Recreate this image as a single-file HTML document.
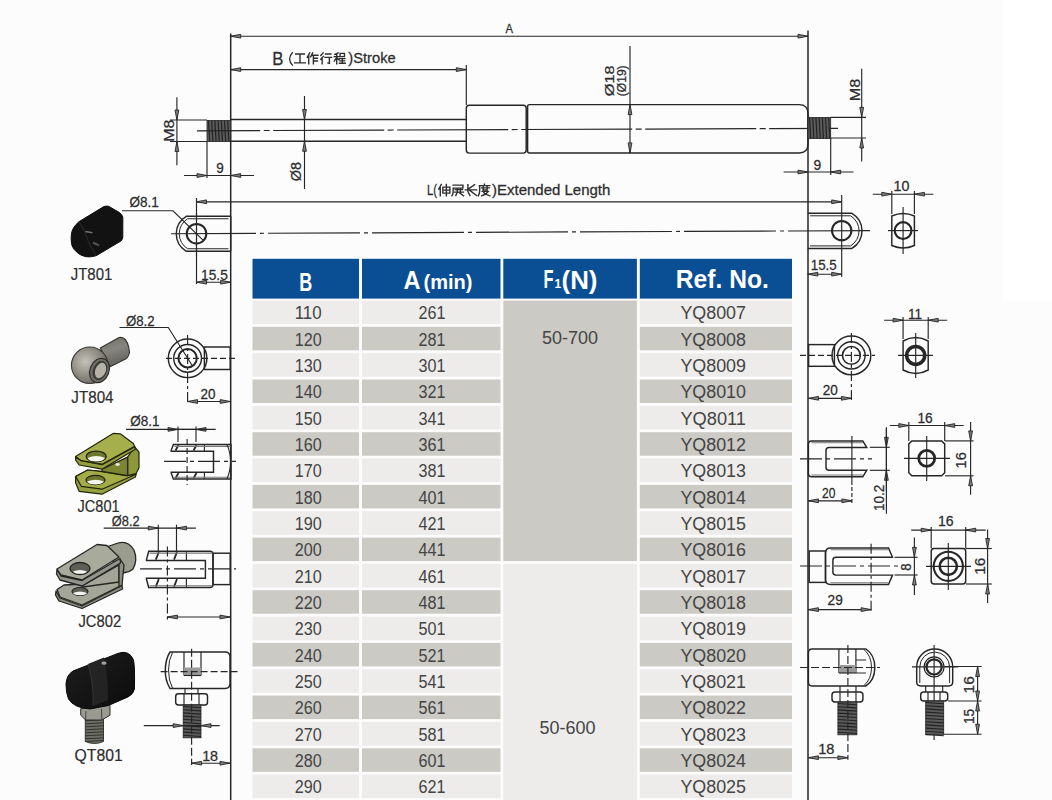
<!DOCTYPE html>
<html><head><meta charset="utf-8"><title>Gas spring</title>
<style>
html,body{margin:0;padding:0;width:1052px;height:800px;overflow:hidden;background:#fcfcfc}
svg{display:block;position:absolute;left:0;top:0}
text{font-family:"Liberation Sans",sans-serif}
</style></head><body>
<svg width="1052" height="800" viewBox="0 0 1052 800">
<rect x="0" y="0" width="1052" height="800" fill="#fcfcfc"/>
<rect x="1003" y="0" width="49" height="301" fill="#ffffff"/>
<line x1="230.7" y1="33.5" x2="230.7" y2="800" stroke="#262626" stroke-width="1.5"/>
<line x1="808" y1="30.5" x2="808" y2="800" stroke="#262626" stroke-width="1.5"/>
<line x1="230.7" y1="36.2" x2="808" y2="36.2" stroke="#262626" stroke-width="1.15"/>
<polygon points="230.7,36.2 240.7,34.3 240.7,38.1" fill="#7a7a7a" stroke="#262626" stroke-width="0.9"/>
<polygon points="808.0,36.2 798.0,34.3 798.0,38.1" fill="#7a7a7a" stroke="#262626" stroke-width="0.9"/>
<line x1="230.7" y1="69.6" x2="466.3" y2="69.6" stroke="#262626" stroke-width="1.15"/>
<polygon points="230.7,69.6 240.7,67.7 240.7,71.5" fill="#7a7a7a" stroke="#262626" stroke-width="0.9"/>
<polygon points="466.3,69.6 456.3,67.7 456.3,71.5" fill="#7a7a7a" stroke="#262626" stroke-width="0.9"/>
<line x1="466.3" y1="65" x2="466.3" y2="105" stroke="#262626" stroke-width="1.15"/>
<path d="M292.8,52.2 Q289.6,55.5 289.6,58.9 Q289.6,62.3 292.8,65.6" stroke="#2d2d2d" stroke-width="1.3" fill="none"/>
<path transform="translate(294.20,52.60) scale(0.967,0.950)" d="M1.5,1.5 H10.5 M6,1.5 V10.8 M0.5,10.8 H11.5" stroke="#2e2e2e" stroke-width="1.448" fill="none" stroke-linecap="square"/>
<path transform="translate(306.80,52.60) scale(0.967,0.950)" d="M3,0.3 L0.5,5 M2,3.5 V11.8 M6,0.3 L4,4.5 M5,2.8 H11.5 M6.8,2.8 V11.8 M6.8,6 H11 M6.8,8.8 H11" stroke="#2e2e2e" stroke-width="1.448" fill="none" stroke-linecap="square"/>
<path transform="translate(320.20,52.60) scale(0.967,0.950)" d="M3,0.3 L0.6,3 M3.2,4 L0.6,7 M2,6 V11.8 M5.5,1.5 H11 M5,5 H11.8 M9.5,5 V11.3 L8,11" stroke="#2e2e2e" stroke-width="1.448" fill="none" stroke-linecap="square"/>
<path transform="translate(333.80,52.60) scale(0.967,0.950)" d="M4.5,0.3 L1,1.8 M0.5,4.2 H5.5 M3,1.5 V11.8 M3,5 L0.5,9 M3.2,5.5 L5.2,7.5 M6.5,0.8 H11 V4.3 H6.5 Z M6,6.3 H11.5 M8.8,6.3 V11 M6.3,8.7 H11.2 M5.8,11.2 H11.8" stroke="#2e2e2e" stroke-width="1.448" fill="none" stroke-linecap="square"/>
<line x1="230.7" y1="119.5" x2="466.3" y2="119.5" stroke="#262626" stroke-width="1.45"/>
<line x1="230.7" y1="141.3" x2="466.3" y2="141.3" stroke="#262626" stroke-width="1.45"/>
<rect x="207" y="120.5" width="23.69999999999999" height="21.0" rx="0" stroke="#262626" stroke-width="0.8" fill="#5a5a5a"/>
<line x1="208.5" y1="120.5" x2="209.7" y2="141.5" stroke="#222" stroke-width="1.15"/>
<line x1="211.7" y1="120.5" x2="212.89999999999998" y2="141.5" stroke="#222" stroke-width="1.15"/>
<line x1="214.9" y1="120.5" x2="216.1" y2="141.5" stroke="#222" stroke-width="1.15"/>
<line x1="218.1" y1="120.5" x2="219.29999999999998" y2="141.5" stroke="#222" stroke-width="1.15"/>
<line x1="221.3" y1="120.5" x2="222.5" y2="141.5" stroke="#222" stroke-width="1.15"/>
<line x1="224.5" y1="120.5" x2="225.7" y2="141.5" stroke="#222" stroke-width="1.15"/>
<line x1="227.7" y1="120.5" x2="228.89999999999998" y2="141.5" stroke="#222" stroke-width="1.15"/>
<path d="M197,130.8 L838,128.3" stroke="#262626" stroke-width="1.15" stroke-dasharray="111 3.5 6 3.5" stroke-dashoffset="47.8" fill="none"/>
<rect x="466.3" y="105.2" width="59.9" height="47.9" rx="3" stroke="#262626" stroke-width="1.45" fill="none"/>
<path d="M529.4,104.6 H799 Q808,104.6 808,113.6 V143.9 Q808,152.9 799,152.9 H529.4 Q527.6,152.9 527.6,151 V106.5 Q527.6,104.6 529.4,104.6 Z" stroke="#262626" stroke-width="1.45" fill="none" />
<rect x="808" y="117.5" width="22.700000000000045" height="21.099999999999994" rx="0" stroke="#262626" stroke-width="0.8" fill="#5a5a5a"/>
<line x1="809.5" y1="117.5" x2="810.7" y2="138.6" stroke="#222" stroke-width="1.15"/>
<line x1="812.7" y1="117.5" x2="813.9000000000001" y2="138.6" stroke="#222" stroke-width="1.15"/>
<line x1="815.9" y1="117.5" x2="817.1" y2="138.6" stroke="#222" stroke-width="1.15"/>
<line x1="819.1" y1="117.5" x2="820.3000000000001" y2="138.6" stroke="#222" stroke-width="1.15"/>
<line x1="822.3" y1="117.5" x2="823.5" y2="138.6" stroke="#222" stroke-width="1.15"/>
<line x1="825.5" y1="117.5" x2="826.7" y2="138.6" stroke="#222" stroke-width="1.15"/>
<line x1="828.7" y1="117.5" x2="829.9000000000001" y2="138.6" stroke="#222" stroke-width="1.15"/>
<line x1="170" y1="120" x2="207" y2="120" stroke="#262626" stroke-width="1.15"/>
<line x1="170" y1="141.5" x2="207" y2="141.5" stroke="#262626" stroke-width="1.15"/>
<line x1="176.9" y1="97.3" x2="176.9" y2="165.2" stroke="#262626" stroke-width="1.15"/>
<polygon points="176.9,120.0 175.0,110.0 178.8,110.0" fill="#7a7a7a" stroke="#262626" stroke-width="0.9"/>
<polygon points="176.9,141.5 175.0,151.5 178.8,151.5" fill="#7a7a7a" stroke="#262626" stroke-width="0.9"/>
<line x1="207" y1="141.5" x2="207" y2="178" stroke="#262626" stroke-width="1.15"/>
<line x1="184" y1="175.5" x2="254" y2="175.5" stroke="#262626" stroke-width="1.15"/>
<polygon points="207.0,175.5 197.0,173.6 197.0,177.4" fill="#7a7a7a" stroke="#262626" stroke-width="0.9"/>
<polygon points="230.7,175.5 240.7,173.6 240.7,177.4" fill="#7a7a7a" stroke="#262626" stroke-width="0.9"/>
<line x1="304.5" y1="96" x2="304.5" y2="189" stroke="#262626" stroke-width="1.15"/>
<polygon points="304.5,119.5 302.6,109.5 306.4,109.5" fill="#7a7a7a" stroke="#262626" stroke-width="0.9"/>
<polygon points="304.5,141.3 302.6,151.3 306.4,151.3" fill="#7a7a7a" stroke="#262626" stroke-width="0.9"/>
<line x1="630" y1="46" x2="630" y2="153" stroke="#262626" stroke-width="1.15"/>
<polygon points="630.0,104.6 628.1,114.6 631.9,114.6" fill="#7a7a7a" stroke="#262626" stroke-width="0.9"/>
<polygon points="630.0,152.9 628.1,142.9 631.9,142.9" fill="#7a7a7a" stroke="#262626" stroke-width="0.9"/>
<line x1="831" y1="117.3" x2="866" y2="117.3" stroke="#262626" stroke-width="1.15"/>
<line x1="831" y1="138" x2="866" y2="138" stroke="#262626" stroke-width="1.15"/>
<line x1="861.7" y1="68.7" x2="861.7" y2="161.4" stroke="#262626" stroke-width="1.15"/>
<polygon points="861.7,117.3 859.8,107.3 863.6,107.3" fill="#7a7a7a" stroke="#262626" stroke-width="0.9"/>
<polygon points="861.7,138.0 859.8,148.0 863.6,148.0" fill="#7a7a7a" stroke="#262626" stroke-width="0.9"/>
<line x1="830.7" y1="138" x2="830.7" y2="175" stroke="#262626" stroke-width="1.15"/>
<line x1="783.6" y1="172" x2="853.5" y2="172" stroke="#262626" stroke-width="1.15"/>
<polygon points="808.0,172.0 798.0,170.1 798.0,173.9" fill="#7a7a7a" stroke="#262626" stroke-width="0.9"/>
<polygon points="830.7,172.0 840.7,170.1 840.7,173.9" fill="#7a7a7a" stroke="#262626" stroke-width="0.9"/>
<line x1="196.5" y1="201.8" x2="841.7" y2="201.8" stroke="#262626" stroke-width="1.15"/>
<polygon points="196.5,201.8 206.5,199.9 206.5,203.7" fill="#7a7a7a" stroke="#262626" stroke-width="0.9"/>
<polygon points="841.7,201.8 831.7,199.9 831.7,203.7" fill="#7a7a7a" stroke="#262626" stroke-width="0.9"/>
<line x1="196.5" y1="198" x2="196.5" y2="284" stroke="#262626" stroke-width="1.15"/>
<line x1="841.7" y1="195" x2="841.7" y2="277" stroke="#262626" stroke-width="1.15"/>
<path transform="translate(438.20,184.20) scale(1.033,0.983)" d="M3,0.3 L0.5,5 M2,3.5 V11.8 M4.5,3 H11.3 V9 H4.5 Z M4.5,6 H11.3 M7.9,0.3 V11.8" stroke="#2e2e2e" stroke-width="1.355" fill="none" stroke-linecap="square"/>
<path transform="translate(451.60,184.20) scale(1.033,0.983)" d="M1.5,1 H11 V4 H1.5 V8 Q1.2,11 0.3,11.8 M3.5,5.5 H10.5 M3,8 H11.5 M5.5,4.5 V8 M8.5,4.5 V8 M4,11.5 L5.5,8.5 M7.5,8.5 L11.5,11.8" stroke="#2e2e2e" stroke-width="1.355" fill="none" stroke-linecap="square"/>
<path transform="translate(464.80,184.20) scale(1.033,0.983)" d="M3,0.5 V7.5 L5,11.5 M9.5,0.5 L4,4.5 M0.5,5.8 H11.5 M5,6.5 L11.5,11.5" stroke="#2e2e2e" stroke-width="1.355" fill="none" stroke-linecap="square"/>
<path transform="translate(478.00,184.20) scale(1.033,0.983)" d="M6.2,0 V1.3 M1.3,1.5 H11.5 M1.6,1.5 V7 Q1.4,10 0.3,11.8 M3.5,3.8 H11 M5,2.2 V6 M8.8,2.2 V6 M5,5.8 H8.8 M4,7.3 H10 Q8,10.5 3.5,11.8 M5.5,8.5 Q8,11 11.5,11.8" stroke="#2e2e2e" stroke-width="1.355" fill="none" stroke-linecap="square"/>
<path d="M171,233.7 L870,230.6" stroke="#262626" stroke-width="1.15" stroke-dasharray="92 4 4 4" stroke-dashoffset="7" fill="none"/>
<path d="M230.7,216.25 H186.3 A20.3,20.3 0 0 0 186.3,251.25 H230.7" stroke="#262626" stroke-width="1.45" fill="none" />
<path d="M228.5,218.75 H187.6 A17.6,17.6 0 0 0 187.6,248.75 H228.5" stroke="#262626" stroke-width="1.0" fill="none" />
<line x1="230.7" y1="216" x2="230.7" y2="251.4" stroke="#262626" stroke-width="1.45"/>
<circle cx="196.5" cy="233.7" r="9.8" stroke="#262626" stroke-width="2" fill="none"/>
<line x1="196.5" y1="213" x2="196.5" y2="257" stroke="#262626" stroke-width="1.15" stroke-dasharray="3 2"/>
<path d="M122,210.8 H173 L203.5,240.6" stroke="#262626" stroke-width="1.1" fill="none" />
<line x1="196.5" y1="282.2" x2="230.7" y2="282.2" stroke="#262626" stroke-width="1.15"/>
<polygon points="196.5,282.2 206.5,280.3 206.5,284.1" fill="#7a7a7a" stroke="#262626" stroke-width="0.9"/>
<polygon points="230.7,282.2 220.7,280.3 220.7,284.1" fill="#7a7a7a" stroke="#262626" stroke-width="0.9"/>
<path d="M807.8,213.3 H851.9 A20.3,20.3 0 0 1 851.9,248.4 H807.8" stroke="#262626" stroke-width="1.45" fill="none" />
<path d="M810,215.8 H850.6 A17.6,17.6 0 0 1 850.6,245.9 H810" stroke="#262626" stroke-width="1.0" fill="none" />
<circle cx="841.7" cy="230.6" r="9.7" stroke="#262626" stroke-width="2" fill="none"/>
<line x1="807.8" y1="274.2" x2="841.7" y2="274.2" stroke="#262626" stroke-width="1.15"/>
<polygon points="807.8,274.2 817.8,272.3 817.8,276.1" fill="#7a7a7a" stroke="#262626" stroke-width="0.9"/>
<polygon points="841.7,274.2 831.7,272.3 831.7,276.1" fill="#7a7a7a" stroke="#262626" stroke-width="0.9"/>
<path d="M891.8,216 Q903.1,211 914.4,216 V245.5 Q903.1,250.5 891.8,245.5 Z" stroke="#262626" stroke-width="1.45" fill="none" />
<circle cx="903.1" cy="230.6" r="8.4" stroke="#262626" stroke-width="2.2" fill="none"/>
<line x1="903.1" y1="207" x2="903.1" y2="254" stroke="#262626" stroke-width="1.15"/>
<line x1="888" y1="230.6" x2="918" y2="230.6" stroke="#262626" stroke-width="1.15"/>
<line x1="891.8" y1="191" x2="891.8" y2="214" stroke="#262626" stroke-width="1.15"/>
<line x1="914.4" y1="191" x2="914.4" y2="214" stroke="#262626" stroke-width="1.15"/>
<line x1="872.8" y1="194.2" x2="933.4" y2="194.2" stroke="#262626" stroke-width="1.15"/>
<polygon points="891.8,194.2 881.8,192.3 881.8,196.1" fill="#7a7a7a" stroke="#262626" stroke-width="0.9"/>
<polygon points="914.4,194.2 924.4,192.3 924.4,196.1" fill="#7a7a7a" stroke="#262626" stroke-width="0.9"/>
<circle cx="187.6" cy="358.3" r="19.3" stroke="#262626" stroke-width="1.45" fill="none"/>
<circle cx="187.6" cy="358.3" r="13.9" stroke="#262626" stroke-width="1.45" fill="none"/>
<circle cx="187.6" cy="358.3" r="9.2" stroke="#262626" stroke-width="2" fill="none"/>
<rect x="204.4" y="347" width="25.8" height="22.5" rx="0" stroke="#262626" stroke-width="1.45" fill="none"/>
<line x1="166" y1="358.3" x2="236" y2="358.3" stroke="#262626" stroke-width="1.15" stroke-dasharray="6 3"/>
<line x1="187.6" y1="335" x2="187.6" y2="404" stroke="#262626" stroke-width="1.15" stroke-dasharray="10 3 3 3"/>
<path d="M119.5,327.5 H168.3 L192.5,366" stroke="#262626" stroke-width="1.1" fill="none" />
<line x1="187.6" y1="401.5" x2="230.2" y2="401.5" stroke="#262626" stroke-width="1.15"/>
<polygon points="187.6,401.5 197.6,399.6 197.6,403.4" fill="#7a7a7a" stroke="#262626" stroke-width="0.9"/>
<polygon points="230.2,401.5 220.2,399.6 220.2,403.4" fill="#7a7a7a" stroke="#262626" stroke-width="0.9"/>
<rect x="808.6" y="344.6" width="25.8" height="21.7" rx="0" stroke="#262626" stroke-width="1.45" fill="none"/>
<circle cx="851.4" cy="355.4" r="19.4" stroke="#262626" stroke-width="1.45" fill="none"/>
<circle cx="851.4" cy="355.4" r="13.7" stroke="#262626" stroke-width="1.45" fill="none"/>
<circle cx="851.4" cy="355.4" r="8.9" stroke="#262626" stroke-width="1.6" fill="none"/>
<line x1="800" y1="355.4" x2="875" y2="355.4" stroke="#262626" stroke-width="1.15" stroke-dasharray="6 3"/>
<line x1="851.4" y1="333" x2="851.4" y2="400" stroke="#262626" stroke-width="1.15" stroke-dasharray="10 3 3 3"/>
<line x1="808.6" y1="398.3" x2="851.4" y2="398.3" stroke="#262626" stroke-width="1.15"/>
<polygon points="808.6,398.3 818.6,396.4 818.6,400.2" fill="#7a7a7a" stroke="#262626" stroke-width="0.9"/>
<polygon points="851.4,398.3 841.4,396.4 841.4,400.2" fill="#7a7a7a" stroke="#262626" stroke-width="0.9"/>
<path d="M903.1,341 Q915.7,334 928.2,341 V370 Q915.7,377 903.1,370 Z" stroke="#262626" stroke-width="1.45" fill="none" />
<circle cx="915.7" cy="355.4" r="9" stroke="#262626" stroke-width="3.5" fill="none"/>
<line x1="915.7" y1="333" x2="915.7" y2="378" stroke="#262626" stroke-width="1.15"/>
<line x1="898" y1="355.4" x2="933" y2="355.4" stroke="#262626" stroke-width="1.15"/>
<line x1="903.1" y1="317" x2="903.1" y2="339" stroke="#262626" stroke-width="1.15"/>
<line x1="928.2" y1="317" x2="928.2" y2="339" stroke="#262626" stroke-width="1.15"/>
<line x1="884.1" y1="320.2" x2="947.2" y2="320.2" stroke="#262626" stroke-width="1.15"/>
<polygon points="903.1,320.2 893.1,318.3 893.1,322.1" fill="#7a7a7a" stroke="#262626" stroke-width="0.9"/>
<polygon points="928.2,320.2 938.2,318.3 938.2,322.1" fill="#7a7a7a" stroke="#262626" stroke-width="0.9"/>
<path d="M173.39999999999998,444.5 H231 Q231,444.5 231,444.5 V479 Q231,479 231,479 H173.39999999999998 L171.2,473.2 V472.2 H213.5 V451.3 H171.2 V450.3 Z" stroke="#262626" stroke-width="1.45" fill="none" />
<path d="M175.5,450.5 L178.5,445.3 M175.5,478.2 L178.5,473.0" stroke="#262626" stroke-width="1.8" fill="none" />
<path d="M193.5,450.5 L196.5,445.3 M193.5,478.2 L196.5,473.0" stroke="#262626" stroke-width="1.8" fill="none" />
<line x1="204.4" y1="444.5" x2="204.4" y2="451.3" stroke="#262626" stroke-width="1.15"/>
<line x1="204.4" y1="479" x2="204.4" y2="472.2" stroke="#262626" stroke-width="1.15"/>
<line x1="174.39999999999998" y1="446.3" x2="230.5" y2="446.3" stroke="#777" stroke-width="1.15"/>
<line x1="174.39999999999998" y1="477.2" x2="230.5" y2="477.2" stroke="#777" stroke-width="1.15"/>
<path d="M227,444.8 Q230.5,452 230.5,461.8 Q230.5,471 227,478.7" stroke="#262626" stroke-width="1.1" fill="none" />
<line x1="164" y1="461.3" x2="236" y2="461.3" stroke="#262626" stroke-width="1.15" stroke-dasharray="22 4 4 4"/>
<line x1="187.1" y1="439" x2="187.1" y2="485" stroke="#262626" stroke-width="1.15" stroke-dasharray="6 3"/>
<line x1="178" y1="429.4" x2="196" y2="429.4" stroke="#262626" stroke-width="1.15"/>
<polygon points="178.0,429.4 168.0,427.5 168.0,431.3" fill="#7a7a7a" stroke="#262626" stroke-width="0.9"/>
<polygon points="196.0,429.4 206.0,427.5 206.0,431.3" fill="#7a7a7a" stroke="#262626" stroke-width="0.9"/>
<line x1="126" y1="429.4" x2="215.7" y2="429.4" stroke="#262626" stroke-width="1.15"/>
<line x1="178" y1="426.5" x2="178" y2="442" stroke="#262626" stroke-width="1.15"/>
<line x1="196" y1="426.5" x2="196" y2="442" stroke="#262626" stroke-width="1.15"/>
<path d="M811.4,440.9 H862.8 L866.8,447.5 H829 Q826,447.5 826,450.5 V467.2 Q826,470.2 829,470.2 H866.8 L862.8,476.8 H811.4 Q808.4,476.8 808.4,473.8 V443.9 Q808.4,440.9 811.4,440.9 Z" stroke="#262626" stroke-width="1.45" fill="none" />
<line x1="811.4" y1="442.7" x2="862.8" y2="442.7" stroke="#777" stroke-width="1.15"/>
<line x1="811.4" y1="475.0" x2="862.8" y2="475.0" stroke="#777" stroke-width="1.15"/>
<line x1="800" y1="458.8" x2="872" y2="458.8" stroke="#262626" stroke-width="1.15" stroke-dasharray="22 4 4 4"/>
<line x1="851.9" y1="436" x2="851.9" y2="481" stroke="#262626" stroke-width="1.15"/>
<line x1="808.4" y1="500.8" x2="851.9" y2="500.8" stroke="#262626" stroke-width="1.15"/>
<polygon points="808.4,500.8 818.4,498.9 818.4,502.7" fill="#7a7a7a" stroke="#262626" stroke-width="0.9"/>
<polygon points="851.9,500.8 841.9,498.9 841.9,502.7" fill="#7a7a7a" stroke="#262626" stroke-width="0.9"/>
<line x1="851.9" y1="481" x2="851.9" y2="504" stroke="#262626" stroke-width="1.15" stroke-dasharray="4 2"/>
<line x1="869.8" y1="447.3" x2="889.8" y2="447.3" stroke="#262626" stroke-width="1.15"/>
<line x1="869.8" y1="470.3" x2="889.8" y2="470.3" stroke="#262626" stroke-width="1.15"/>
<line x1="886.4" y1="427.3" x2="886.4" y2="490.3" stroke="#262626" stroke-width="1.15"/>
<polygon points="886.4,447.3 884.5,437.3 888.3,437.3" fill="#7a7a7a" stroke="#262626" stroke-width="0.9"/>
<polygon points="886.4,470.3 884.5,480.3 888.3,480.3" fill="#7a7a7a" stroke="#262626" stroke-width="0.9"/>
<line x1="886.4" y1="428" x2="886.4" y2="513.8" stroke="#262626" stroke-width="1.15"/>
<path d="M911.8,440.9 H941.7 L944.7,443.9 V472.8 L941.7,475.8 H911.8 L908.8,472.8 V443.9 Z" stroke="#262626" stroke-width="1.45" fill="none" />
<circle cx="926.7" cy="458.3" r="8.0" stroke="#262626" stroke-width="2.8" fill="none"/>
<line x1="926.7" y1="436" x2="926.7" y2="481" stroke="#262626" stroke-width="1.15"/>
<line x1="904" y1="458.3" x2="950" y2="458.3" stroke="#262626" stroke-width="1.15"/>
<line x1="908.8" y1="422" x2="908.8" y2="441" stroke="#262626" stroke-width="1.15"/>
<line x1="944.7" y1="422" x2="944.7" y2="441" stroke="#262626" stroke-width="1.15"/>
<line x1="889.8" y1="425.5" x2="963.7" y2="425.5" stroke="#262626" stroke-width="1.15"/>
<polygon points="908.8,425.5 898.8,423.6 898.8,427.4" fill="#7a7a7a" stroke="#262626" stroke-width="0.9"/>
<polygon points="944.7,425.5 954.7,423.6 954.7,427.4" fill="#7a7a7a" stroke="#262626" stroke-width="0.9"/>
<line x1="945" y1="440.9" x2="973.6" y2="440.9" stroke="#262626" stroke-width="1.15"/>
<line x1="945" y1="475.8" x2="973.6" y2="475.8" stroke="#262626" stroke-width="1.15"/>
<line x1="970.6" y1="421.9" x2="970.6" y2="494.8" stroke="#262626" stroke-width="1.15"/>
<polygon points="970.6,440.9 968.7,430.9 972.5,430.9" fill="#7a7a7a" stroke="#262626" stroke-width="0.9"/>
<polygon points="970.6,475.8 968.7,485.8 972.5,485.8" fill="#7a7a7a" stroke="#262626" stroke-width="0.9"/>
<rect x="213" y="553.2" width="17.2" height="31.4" rx="0" stroke="#262626" stroke-width="1.45" fill="none"/>
<path d="M148.7,551.3 H210 Q213,551.3 213,554.3 V584.5 Q213,587.5 210,587.5 H148.7 L146.5,579.3 V578.3 H205.4 V560.5 H146.5 V559.5 Z" stroke="#262626" stroke-width="1.45" fill="none" />
<path d="M155.8,559.7 L158.8,552.0999999999999 M155.8,586.7 L158.8,579.0999999999999" stroke="#262626" stroke-width="1.8" fill="none" />
<path d="M174.0,559.7 L177.0,552.0999999999999 M174.0,586.7 L177.0,579.0999999999999" stroke="#262626" stroke-width="1.8" fill="none" />
<line x1="186.4" y1="551.3" x2="186.4" y2="560.5" stroke="#262626" stroke-width="1.15"/>
<line x1="186.4" y1="587.5" x2="186.4" y2="578.3" stroke="#262626" stroke-width="1.15"/>
<line x1="149.7" y1="553.0999999999999" x2="212.5" y2="553.0999999999999" stroke="#777" stroke-width="1.15"/>
<line x1="149.7" y1="585.7" x2="212.5" y2="585.7" stroke="#777" stroke-width="1.15"/>
<line x1="140" y1="568.8" x2="236" y2="568.8" stroke="#262626" stroke-width="1.15" stroke-dasharray="22 4 4 4"/>
<line x1="167.4" y1="546.6" x2="167.4" y2="619.8" stroke="#262626" stroke-width="1.15" stroke-dasharray="10 3 3 3"/>
<line x1="167.4" y1="617" x2="230" y2="617" stroke="#262626" stroke-width="1.15"/>
<polygon points="167.4,617.0 177.4,615.1 177.4,618.9" fill="#7a7a7a" stroke="#262626" stroke-width="0.9"/>
<polygon points="230.0,617.0 220.0,615.1 220.0,618.9" fill="#7a7a7a" stroke="#262626" stroke-width="0.9"/>
<line x1="103.7" y1="528.1" x2="195.9" y2="528.1" stroke="#262626" stroke-width="1.15"/>
<polygon points="158.3,528.1 148.3,526.2 148.3,530.0" fill="#7a7a7a" stroke="#262626" stroke-width="0.9"/>
<polygon points="176.5,528.1 186.5,526.2 186.5,530.0" fill="#7a7a7a" stroke="#262626" stroke-width="0.9"/>
<line x1="158.3" y1="524.7" x2="158.3" y2="551.3" stroke="#262626" stroke-width="1.15"/>
<line x1="176.5" y1="524.7" x2="176.5" y2="551.3" stroke="#262626" stroke-width="1.15"/>
<rect x="809.2" y="551" width="16.3" height="31.4" rx="0" stroke="#262626" stroke-width="1.45" fill="none"/>
<path d="M830.5,547.9 H888.5 L892.5,557.3 H835.9 Q832.9,557.3 832.9,560.3 V572.1 Q832.9,575.1 835.9,575.1 H892.5 L888.5,584.5 H830.5 Q825.5,584.5 825.5,579.5 V552.9 Q825.5,547.9 830.5,547.9 Z" stroke="#262626" stroke-width="1.45" fill="none" />
<line x1="830.5" y1="549.6999999999999" x2="888.5" y2="549.6999999999999" stroke="#777" stroke-width="1.15"/>
<line x1="830.5" y1="582.7" x2="888.5" y2="582.7" stroke="#777" stroke-width="1.15"/>
<line x1="800" y1="566" x2="900" y2="566" stroke="#262626" stroke-width="1.15" stroke-dasharray="22 4 4 4"/>
<line x1="871.1" y1="543.7" x2="871.1" y2="612" stroke="#262626" stroke-width="1.15" stroke-dasharray="10 3 3 3"/>
<line x1="808.4" y1="609.6" x2="871.1" y2="609.6" stroke="#262626" stroke-width="1.15"/>
<polygon points="808.4,609.6 818.4,607.7 818.4,611.5" fill="#7a7a7a" stroke="#262626" stroke-width="0.9"/>
<polygon points="871.1,609.6 861.1,607.7 861.1,611.5" fill="#7a7a7a" stroke="#262626" stroke-width="0.9"/>
<line x1="894.6" y1="557.3" x2="917.6" y2="557.3" stroke="#262626" stroke-width="1.15"/>
<line x1="894.6" y1="575" x2="917.6" y2="575" stroke="#262626" stroke-width="1.15"/>
<line x1="914.4" y1="537.4" x2="914.4" y2="595" stroke="#262626" stroke-width="1.15"/>
<polygon points="914.4,557.3 912.5,547.3 916.3,547.3" fill="#7a7a7a" stroke="#262626" stroke-width="0.9"/>
<polygon points="914.4,575.0 912.5,585.0 916.3,585.0" fill="#7a7a7a" stroke="#262626" stroke-width="0.9"/>
<rect x="931.2" y="548.5" width="34.5" height="35.5" rx="3" stroke="#262626" stroke-width="1.45" fill="none"/>
<circle cx="948.3" cy="566.3" r="14.6" stroke="#262626" stroke-width="2.1" fill="none"/>
<circle cx="948.3" cy="566.3" r="8.6" stroke="#262626" stroke-width="2.6" fill="none"/>
<line x1="948.3" y1="543" x2="948.3" y2="590" stroke="#262626" stroke-width="1.15"/>
<line x1="926" y1="566.3" x2="971" y2="566.3" stroke="#262626" stroke-width="1.15"/>
<line x1="931.2" y1="527" x2="931.2" y2="548.5" stroke="#262626" stroke-width="1.15"/>
<line x1="965.7" y1="527" x2="965.7" y2="548.5" stroke="#262626" stroke-width="1.15"/>
<line x1="911.2" y1="530.1" x2="985.7" y2="530.1" stroke="#262626" stroke-width="1.15"/>
<polygon points="931.2,530.1 921.2,528.2 921.2,532.0" fill="#7a7a7a" stroke="#262626" stroke-width="0.9"/>
<polygon points="965.7,530.1 975.7,528.2 975.7,532.0" fill="#7a7a7a" stroke="#262626" stroke-width="0.9"/>
<line x1="966" y1="548.5" x2="991.8" y2="548.5" stroke="#262626" stroke-width="1.15"/>
<line x1="966" y1="584" x2="991.8" y2="584" stroke="#262626" stroke-width="1.15"/>
<line x1="987.6" y1="529.5" x2="987.6" y2="603" stroke="#262626" stroke-width="1.15"/>
<polygon points="987.6,548.5 985.7,538.5 989.5,538.5" fill="#7a7a7a" stroke="#262626" stroke-width="0.9"/>
<polygon points="987.6,584.0 985.7,594.0 989.5,594.0" fill="#7a7a7a" stroke="#262626" stroke-width="0.9"/>
<path d="M170,652 H225 Q230,652 230,657 V683.5 Q230,688.5 225,688.5 H170 Q165,680 165.3,670 Q165.5,659 170,652 Z" stroke="#262626" stroke-width="1.45" fill="none" />
<path d="M172.5,652.5 Q168.5,660 168.5,670 Q168.5,681 172.5,688" stroke="#262626" stroke-width="1.0" fill="none" />
<line x1="184" y1="652" x2="184" y2="675.5" stroke="#262626" stroke-width="1.2"/>
<line x1="201" y1="652" x2="201" y2="675.5" stroke="#262626" stroke-width="1.2"/>
<rect x="184" y="667.5" width="17" height="8" fill="#9a9a9a"/>
<line x1="184" y1="675.5" x2="201" y2="675.5" stroke="#262626" stroke-width="1.15"/>
<line x1="160.6" y1="671.6" x2="237.5" y2="671.6" stroke="#262626" stroke-width="1.15" stroke-dasharray="7 3"/>
<line x1="185" y1="688.5" x2="185" y2="693.8" stroke="#262626" stroke-width="1.15"/>
<line x1="198" y1="688.5" x2="198" y2="693.8" stroke="#262626" stroke-width="1.15"/>
<path d="M178.5,693.8 H205 Q207.5,693.8 207.5,696.5 V702.3 Q207.5,705 205,705 H178.5 Q175.7,705 175.7,702.3 V696.5 Q175.7,693.8 178.5,693.8 Z" stroke="#262626" stroke-width="1.45" fill="none" />
<line x1="184" y1="693.8" x2="184" y2="705" stroke="#262626" stroke-width="1.15"/>
<line x1="199" y1="693.8" x2="199" y2="705" stroke="#262626" stroke-width="1.15"/>
<rect x="183.2" y="705" width="17.80000000000001" height="32.799999999999955" rx="0" stroke="#262626" stroke-width="0.8" fill="#5a5a5a"/>
<line x1="183.2" y1="706.5" x2="201" y2="707.7" stroke="#222" stroke-width="1.15"/>
<line x1="183.2" y1="709.7" x2="201" y2="710.9000000000001" stroke="#222" stroke-width="1.15"/>
<line x1="183.2" y1="712.9" x2="201" y2="714.1" stroke="#222" stroke-width="1.15"/>
<line x1="183.2" y1="716.1" x2="201" y2="717.3000000000001" stroke="#222" stroke-width="1.15"/>
<line x1="183.2" y1="719.3" x2="201" y2="720.5" stroke="#222" stroke-width="1.15"/>
<line x1="183.2" y1="722.5" x2="201" y2="723.7" stroke="#222" stroke-width="1.15"/>
<line x1="183.2" y1="725.7" x2="201" y2="726.9000000000001" stroke="#222" stroke-width="1.15"/>
<line x1="183.2" y1="728.9" x2="201" y2="730.1" stroke="#222" stroke-width="1.15"/>
<line x1="183.2" y1="732.1" x2="201" y2="733.3000000000001" stroke="#222" stroke-width="1.15"/>
<line x1="183.2" y1="735.3" x2="201" y2="736.5" stroke="#222" stroke-width="1.15"/>
<line x1="191.6" y1="648.8" x2="191.6" y2="765" stroke="#262626" stroke-width="1.15" stroke-dasharray="8 3"/>
<line x1="191.6" y1="763.2" x2="230" y2="763.2" stroke="#262626" stroke-width="1.15"/>
<polygon points="191.6,763.2 201.6,761.3 201.6,765.1" fill="#7a7a7a" stroke="#262626" stroke-width="0.9"/>
<polygon points="230.0,763.2 220.0,761.3 220.0,765.1" fill="#7a7a7a" stroke="#262626" stroke-width="0.9"/>
<line x1="143.8" y1="725.6" x2="219.7" y2="725.6" stroke="#262626" stroke-width="1.15"/>
<polygon points="183.2,725.6 173.2,723.7 173.2,727.5" fill="#7a7a7a" stroke="#262626" stroke-width="0.9"/>
<polygon points="201.0,725.6 211.0,723.7 211.0,727.5" fill="#7a7a7a" stroke="#262626" stroke-width="0.9"/>
<path d="M812,649 H866 Q874.8,655 874.8,667.5 Q874.8,680 866,685.9 H812 Q808.4,685.9 808.4,682 V653 Q808.4,649 812,649 Z" stroke="#262626" stroke-width="1.45" fill="none" />
<path d="M864,649.5 Q871.5,656 871.5,667.5 Q871.5,679 864,685.5" stroke="#262626" stroke-width="1.0" fill="none" />
<line x1="838.9" y1="649" x2="838.9" y2="673" stroke="#262626" stroke-width="1.2"/>
<line x1="855.9" y1="649" x2="855.9" y2="673" stroke="#262626" stroke-width="1.2"/>
<rect x="838.9" y="665" width="17" height="8" fill="#9a9a9a"/>
<line x1="838.9" y1="673" x2="855.9" y2="673" stroke="#262626" stroke-width="1.15"/>
<path d="M855.9,660 H866 M855.9,673 H866" stroke="#262626" stroke-width="1.0" fill="none" />
<line x1="800" y1="667.5" x2="880" y2="667.5" stroke="#262626" stroke-width="1.15" stroke-dasharray="8 3"/>
<line x1="840" y1="685.9" x2="840" y2="692" stroke="#262626" stroke-width="1.15"/>
<line x1="856" y1="685.9" x2="856" y2="692" stroke="#262626" stroke-width="1.15"/>
<path d="M835,692 H860 Q862.9,692 862.9,695 V699 Q862.9,702 860,702 H835 Q832,702 832,699 V695 Q832,692 835,692 Z" stroke="#262626" stroke-width="1.45" fill="none" />
<line x1="840" y1="692" x2="840" y2="702" stroke="#262626" stroke-width="1.15"/>
<line x1="856" y1="692" x2="856" y2="702" stroke="#262626" stroke-width="1.15"/>
<rect x="837.9" y="702" width="19.0" height="32.799999999999955" rx="0" stroke="#262626" stroke-width="0.8" fill="#5a5a5a"/>
<line x1="837.9" y1="703.5" x2="856.9" y2="704.7" stroke="#222" stroke-width="1.15"/>
<line x1="837.9" y1="706.7" x2="856.9" y2="707.9000000000001" stroke="#222" stroke-width="1.15"/>
<line x1="837.9" y1="709.9" x2="856.9" y2="711.1" stroke="#222" stroke-width="1.15"/>
<line x1="837.9" y1="713.1" x2="856.9" y2="714.3000000000001" stroke="#222" stroke-width="1.15"/>
<line x1="837.9" y1="716.3" x2="856.9" y2="717.5" stroke="#222" stroke-width="1.15"/>
<line x1="837.9" y1="719.5" x2="856.9" y2="720.7" stroke="#222" stroke-width="1.15"/>
<line x1="837.9" y1="722.7" x2="856.9" y2="723.9000000000001" stroke="#222" stroke-width="1.15"/>
<line x1="837.9" y1="725.9" x2="856.9" y2="727.1" stroke="#222" stroke-width="1.15"/>
<line x1="837.9" y1="729.1" x2="856.9" y2="730.3000000000001" stroke="#222" stroke-width="1.15"/>
<line x1="837.9" y1="732.3" x2="856.9" y2="733.5" stroke="#222" stroke-width="1.15"/>
<line x1="847.9" y1="645" x2="847.9" y2="759.7" stroke="#262626" stroke-width="1.15" stroke-dasharray="8 3"/>
<line x1="808.4" y1="757.7" x2="847.9" y2="757.7" stroke="#262626" stroke-width="1.15"/>
<polygon points="808.4,757.7 818.4,755.8 818.4,759.6" fill="#7a7a7a" stroke="#262626" stroke-width="0.9"/>
<polygon points="847.9,757.7 837.9,755.8 837.9,759.6" fill="#7a7a7a" stroke="#262626" stroke-width="0.9"/>
<path d="M916.7,667 A18,18 0 0 1 952.7,667 V682 Q952.7,685.9 948.7,685.9 H920.7 Q916.7,685.9 916.7,682 Z" stroke="#262626" stroke-width="1.45" fill="none" />
<path d="M919.8,667 A14.9,14.9 0 0 1 949.6,667 V683" stroke="#262626" stroke-width="1.0" fill="none" />
<path d="M919.8,667 V683" stroke="#262626" stroke-width="1.0" fill="none" />
<circle cx="934.1" cy="666.9" r="10" stroke="#262626" stroke-width="1.2" fill="none"/>
<circle cx="934.1" cy="666.9" r="7.6" stroke="#262626" stroke-width="2.2" fill="none"/>
<line x1="934.1" y1="645" x2="934.1" y2="740" stroke="#262626" stroke-width="1.15"/>
<line x1="912" y1="666.9" x2="958" y2="666.9" stroke="#262626" stroke-width="1.15"/>
<line x1="925.7" y1="685.9" x2="925.7" y2="692" stroke="#262626" stroke-width="1.15"/>
<line x1="942.7" y1="685.9" x2="942.7" y2="692" stroke="#262626" stroke-width="1.15"/>
<path d="M923.7,692 H944.7 Q947.7,692 947.7,695 V698 Q947.7,701 944.7,701 H923.7 Q920.7,701 920.7,698 V695 Q920.7,692 923.7,692 Z" stroke="#262626" stroke-width="1.45" fill="none" />
<line x1="928" y1="692" x2="928" y2="701" stroke="#262626" stroke-width="1.15"/>
<line x1="940" y1="692" x2="940" y2="701" stroke="#262626" stroke-width="1.15"/>
<rect x="925.7" y="701" width="18.0" height="33.799999999999955" rx="0" stroke="#262626" stroke-width="0.8" fill="#5a5a5a"/>
<line x1="925.7" y1="702.5" x2="943.7" y2="703.7" stroke="#222" stroke-width="1.15"/>
<line x1="925.7" y1="705.7" x2="943.7" y2="706.9000000000001" stroke="#222" stroke-width="1.15"/>
<line x1="925.7" y1="708.9" x2="943.7" y2="710.1" stroke="#222" stroke-width="1.15"/>
<line x1="925.7" y1="712.1" x2="943.7" y2="713.3000000000001" stroke="#222" stroke-width="1.15"/>
<line x1="925.7" y1="715.3" x2="943.7" y2="716.5" stroke="#222" stroke-width="1.15"/>
<line x1="925.7" y1="718.5" x2="943.7" y2="719.7" stroke="#222" stroke-width="1.15"/>
<line x1="925.7" y1="721.7" x2="943.7" y2="722.9000000000001" stroke="#222" stroke-width="1.15"/>
<line x1="925.7" y1="724.9" x2="943.7" y2="726.1" stroke="#222" stroke-width="1.15"/>
<line x1="925.7" y1="728.1" x2="943.7" y2="729.3000000000001" stroke="#222" stroke-width="1.15"/>
<line x1="925.7" y1="731.3" x2="943.7" y2="732.5" stroke="#222" stroke-width="1.15"/>
<line x1="925.7" y1="734.5" x2="943.7" y2="735.7" stroke="#222" stroke-width="1.15"/>
<line x1="945" y1="666.5" x2="981.6" y2="666.5" stroke="#262626" stroke-width="1.15"/>
<line x1="948" y1="701" x2="981.6" y2="701" stroke="#262626" stroke-width="1.15"/>
<line x1="944" y1="734.2" x2="981.6" y2="734.2" stroke="#262626" stroke-width="1.15"/>
<line x1="977.6" y1="665.9" x2="977.6" y2="733.8" stroke="#262626" stroke-width="1.15"/>
<polygon points="977.6,666.5 975.7,676.5 979.5,676.5" fill="#7a7a7a" stroke="#262626" stroke-width="0.9"/>
<polygon points="977.6,701.0 975.7,691.0 979.5,691.0" fill="#7a7a7a" stroke="#262626" stroke-width="0.9"/>
<polygon points="977.6,701.0 975.7,711.0 979.5,711.0" fill="#7a7a7a" stroke="#262626" stroke-width="0.9"/>
<polygon points="977.6,734.2 975.7,724.2 979.5,724.2" fill="#7a7a7a" stroke="#262626" stroke-width="0.9"/>
<defs>
<radialGradient id="ballg" cx="0.38" cy="0.4" r="0.7">
<stop offset="0" stop-color="#c4c2b8"/><stop offset="0.55" stop-color="#908e84"/><stop offset="1" stop-color="#66645c"/>
</radialGradient>
<linearGradient id="shankg" x1="0" y1="0" x2="0.3" y2="1">
<stop offset="0" stop-color="#6f6e68"/><stop offset="0.5" stop-color="#86857e"/><stop offset="1" stop-color="#64635d"/>
</linearGradient>
<linearGradient id="blackg" x1="0" y1="0" x2="1" y2="1">
<stop offset="0" stop-color="#1e1e1e"/><stop offset="1" stop-color="#0c0c0c"/>
</linearGradient>
</defs>
<!-- JT801 black -->
<path d="M71.2,236.4 Q71.5,231 73.5,227.9 Q76,224 79,221.7 L103.8,206.6 Q106,205.8 108.4,206.2 L119.3,212.4 Q122,214.5 122.8,217 L122.8,237.2 Q122.3,239.8 120.8,241.1 L96,255.8 Q90,257.5 85.2,256.6 Q80,255 77.4,252.7 Q73.5,249.5 72,245.7 Q70.9,241 71.2,236.4 Z" fill="#121212" stroke="#0a0a0a" stroke-width="1"/>
<path d="M79,221.7 Q83.5,228 86,235 Q89,244 96,255.8" stroke="#262626" stroke-width="1.2" fill="none"/>
<path d="M85.5,231.5 L92.5,232.8" stroke="#8a8a8a" stroke-width="1.6" opacity="0.8"/>
<path d="M93,242.5 L99,245.5" stroke="#6a6a6a" stroke-width="2.2" opacity="0.7"/>
<!-- JT804 ball -->
<path d="M100.3,348 L119,337.5 Q126,336 128.75,347.25 L129.5,352.5 Q128.5,357 126.5,358.5 L110,366.75 Z" fill="url(#shankg)" stroke="#33322e" stroke-width="1.1"/>
<circle cx="89.75" cy="365.25" r="18.3" fill="url(#ballg)" stroke="#3a3934" stroke-width="1.1"/>
<ellipse cx="99.5" cy="370.5" rx="9.5" ry="12.5" fill="#6e6d66" stroke="#2f2e2a" stroke-width="1.2" transform="rotate(22 99.5 370.5)"/>
<ellipse cx="100" cy="370.5" rx="7" ry="10" fill="#3c3b36" transform="rotate(22 100 370.5)"/>
<ellipse cx="100.5" cy="370.5" rx="5.2" ry="8" fill="#b3b1a8" transform="rotate(22 100.5 370.5)"/>
<!-- JC801 olive clevis -->
<g stroke="#23240c" stroke-width="1.2" stroke-linejoin="round">
<path d="M75.6,477 L87.7,470 L100.5,471.4 L126.2,475.6 L136.1,474.2 L135.4,477 L102,494.2 L79.1,491.3 L75.6,482.8 Z" fill="#95a040"/>
<path d="M75.6,476.4 L87.7,470 L100.5,471.4 L126.2,475.6 L136.1,474.2 L102,489.2 L81.3,486.3 Z" fill="#a2ad48"/>
<path d="M102,469.2 L127.6,457.1 L127.6,475.6 L102,471.4 Z" fill="#7c8630"/>
<path d="M134.7,446.8 L139,452.1 L139,467.8 L136.1,473.5 L127.6,475.6 L127.6,457.1 Z" fill="#8d9839"/>
<path d="M75.6,457 L81.3,460.7 L102,464.6 L134.7,446.8 L135.4,449.3 L102,469.2 L79.1,465 L75.6,460 Z" fill="#939e3f"/>
<path d="M75.6,456.5 L113.1,433.4 L120.6,433.9 L133.3,443.6 L134.7,446.4 L102,464.2 L81.3,460.7 Z" fill="#a5b04c"/>
</g>
<line x1="127.6" y1="457.1" x2="127.6" y2="475.6" stroke="#2a2a40" stroke-width="1.4"/>
<ellipse cx="117.6" cy="464.5" rx="2.2" ry="1.4" fill="#e8e8de"/>
<ellipse cx="96.2" cy="456.4" rx="10" ry="5.3" fill="#6e782a" stroke="#23240c" stroke-width="1.3"/>
<path d="M87.5,458 Q96.2,454 105,458 Q103,461.5 96.2,461.5 Q89,461.5 87.5,458 Z" fill="#f6f6f0"/>
<ellipse cx="95.5" cy="480" rx="9.5" ry="4.6" fill="#6e782a" stroke="#23240c" stroke-width="1.3"/>
<path d="M87,481.5 Q95.5,478 104,481.5 Q102,484.5 95.5,484.5 Q88.5,484.5 87,481.5 Z" fill="#f6f6f0"/>
<!-- JC802 gray-green clevis -->
<g stroke="#262722" stroke-width="1.3" stroke-linejoin="round">
<path d="M108,546.5 L118,543 Q128,540 134,550 Q138,560 133,569 Q130,572 125,572.5 L118,574 Z" fill="#9a9c8e"/>
<path d="M56,591 L60,598 L82,606 L122,585.5 L122.5,589 L82,608.5 L59,601 L55.5,595 Z" fill="#8a8d80"/>
<path d="M57,589.5 L64,585 L119,582 L122,585 L82,605 L60,597 Z" fill="#a3a698"/>
<path d="M82,586 L119,565 L119,582 L83,587 Z" fill="#a4a598"/>
<path d="M120,559 L124,565 L122,585 L119,587 L119,565 Z" fill="#8c8f82"/>
<path d="M57,569.5 L61,576 L82,580.5 L120,558.5 L120.5,563 L82,586 L60,580 L56.5,574 Z" fill="#92958a"/>
<path d="M57,569 L97,544.5 L107,545.5 L119,557 L82,580 L61,575 Z" fill="#a8ab9c"/>
</g>
<ellipse cx="80" cy="568.5" rx="10" ry="6" fill="#5d5f55" stroke="#262722" stroke-width="1.3"/>
<path d="M73,571.5 Q80,568.5 87,571.5 Q85.5,573.8 80,573.8 Q74.5,573.8 73,571.5 Z" fill="#f4f4f0"/>
<ellipse cx="80" cy="591.5" rx="8" ry="4" fill="#5d5f55" stroke="#262722" stroke-width="1.2"/>
<path d="M73,593 Q80,590 87,593 Q85.5,595.2 80,595.2 Q74.5,595.2 73,593 Z" fill="#f4f4f0"/>
<!-- QT801 black -->
<path d="M85.3,717.8 H103.5 V741.5 Q94.4,745.5 85.3,741.5 Z" fill="#6c6d66" stroke="#2a2a28" stroke-width="0.9"/>
<g stroke="#33332f" stroke-width="1">
<line x1="85.3" y1="720.8" x2="103.5" y2="719.8"/><line x1="85.3" y1="723.8" x2="103.5" y2="722.8"/><line x1="85.3" y1="726.8" x2="103.5" y2="725.8"/>
<line x1="85.3" y1="729.8" x2="103.5" y2="728.8"/><line x1="85.3" y1="732.8" x2="103.5" y2="731.8"/><line x1="85.3" y1="735.8" x2="103.5" y2="734.8"/>
<line x1="85.3" y1="738.8" x2="103.5" y2="737.8"/><line x1="85.3" y1="741.5" x2="103.5" y2="740.5"/>
</g>
<path d="M80.7,708.7 L108.3,702.2 L110,706 L110,715.2 L101.8,720 L85.6,720 L80.7,715.2 Z" fill="#9a9a92" stroke="#2e2e2c" stroke-width="1"/>
<line x1="86" y1="711" x2="85.6" y2="720" stroke="#2e2e2c" stroke-width="0.8"/><line x1="101.5" y1="709" x2="101.8" y2="720" stroke="#2e2e2c" stroke-width="0.8"/>
<path d="M66,684 Q66.5,675 73,671 L118,653.4 Q129,649.5 133.5,660 Q135,667 134.4,689.2 Q133.5,694 127.9,697 L108.3,705.5 L90,709 Q74,708 68.5,699 Q65.8,692 66,684 Z" fill="url(#blackg)" stroke="#080808" stroke-width="1"/>
<path d="M88,664 L104,657.5 Q108.5,680 108,700 L93,706 Q94,684 88,664 Z" fill="#232323"/>
<path d="M88,664 Q94,684 93,706" stroke="#3a3a3a" stroke-width="0.8" fill="none"/>
<rect x="101.5" y="661.5" width="5" height="3.2" rx="1.6" fill="#a0a0a0"/>

<text x="505.39" y="32.68" font-size="13.60" fill="#2d2d2d" stroke="#2d2d2d" stroke-width="0.26" textLength="7.50" lengthAdjust="spacingAndGlyphs">A</text>
<text x="272.20" y="64.81" font-size="18.20" fill="#2d2d2d" stroke="#2d2d2d" stroke-width="0.26" textLength="11.20" lengthAdjust="spacingAndGlyphs">B</text>
<text x="348.31" y="62.76" font-size="15.00" fill="#2d2d2d" stroke="#2d2d2d" stroke-width="0.26" textLength="47.40" lengthAdjust="spacingAndGlyphs">)Stroke</text>
<text x="173.60" y="141.80" font-size="15.50" fill="#2d2d2d" stroke="#2d2d2d" stroke-width="0.26" textLength="22.20" lengthAdjust="spacingAndGlyphs" transform="rotate(-90 173.60 141.80)">M8</text>
<text x="216.14" y="173.17" font-size="14.10" fill="#2d2d2d" stroke="#2d2d2d" stroke-width="0.26" textLength="7.51" lengthAdjust="spacingAndGlyphs">9</text>
<text x="300.91" y="181.35" font-size="14.10" fill="#2d2d2d" stroke="#2d2d2d" stroke-width="0.26" textLength="19.30" lengthAdjust="spacingAndGlyphs" transform="rotate(-90 300.91 181.35)">Ø8</text>
<text x="614.10" y="96.26" font-size="12.50" fill="#2d2d2d" stroke="#2d2d2d" stroke-width="0.26" textLength="30.88" lengthAdjust="spacingAndGlyphs" transform="rotate(-90 614.10 96.26)">Ø18</text>
<text x="625.97" y="96.26" font-size="12.50" fill="#2d2d2d" stroke="#2d2d2d" stroke-width="0.26" textLength="30.88" lengthAdjust="spacingAndGlyphs" transform="rotate(-90 625.97 96.26)">(Ø19)</text>
<text x="860.10" y="101.31" font-size="15.50" fill="#2d2d2d" stroke="#2d2d2d" stroke-width="0.26" textLength="22.62" lengthAdjust="spacingAndGlyphs" transform="rotate(-90 860.10 101.31)">M8</text>
<text x="813.56" y="170.06" font-size="14.10" fill="#2d2d2d" stroke="#2d2d2d" stroke-width="0.26" textLength="7.72" lengthAdjust="spacingAndGlyphs">9</text>
<text x="426.98" y="194.75" font-size="14.50" fill="#2d2d2d" stroke="#2d2d2d" stroke-width="0.26" textLength="9.98" lengthAdjust="spacingAndGlyphs">L(</text>
<text x="492.08" y="194.75" font-size="14.50" fill="#2d2d2d" stroke="#2d2d2d" stroke-width="0.26" textLength="118.24" lengthAdjust="spacingAndGlyphs">)Extended Length</text>
<text x="129.49" y="206.61" font-size="14.20" fill="#2d2d2d" stroke="#2d2d2d" stroke-width="0.26" textLength="29.32" lengthAdjust="spacingAndGlyphs">Ø8.1</text>
<text x="201.09" y="279.57" font-size="14.10" fill="#2d2d2d" stroke="#2d2d2d" stroke-width="0.26" textLength="26.72" lengthAdjust="spacingAndGlyphs">15.5</text>
<text x="70.67" y="279.95" font-size="17.20" fill="#2d2d2d" stroke="#2d2d2d" stroke-width="0.2" textLength="41.72" lengthAdjust="spacingAndGlyphs">JT801</text>
<text x="125.91" y="325.80" font-size="14.20" fill="#2d2d2d" stroke="#2d2d2d" stroke-width="0.26" textLength="28.56" lengthAdjust="spacingAndGlyphs">Ø8.2</text>
<text x="200.45" y="398.71" font-size="14.10" fill="#2d2d2d" stroke="#2d2d2d" stroke-width="0.26" textLength="14.98" lengthAdjust="spacingAndGlyphs">20</text>
<text x="71.37" y="402.80" font-size="17.20" fill="#2d2d2d" stroke="#2d2d2d" stroke-width="0.2" textLength="42.14" lengthAdjust="spacingAndGlyphs">JT804</text>
<text x="130.37" y="426.24" font-size="14.20" fill="#2d2d2d" stroke="#2d2d2d" stroke-width="0.26" textLength="29.14" lengthAdjust="spacingAndGlyphs">Ø8.1</text>
<text x="77.47" y="511.60" font-size="17.20" fill="#2d2d2d" stroke="#2d2d2d" stroke-width="0.2" textLength="42.14" lengthAdjust="spacingAndGlyphs">JC801</text>
<text x="111.85" y="525.85" font-size="14.20" fill="#2d2d2d" stroke="#2d2d2d" stroke-width="0.26" textLength="27.82" lengthAdjust="spacingAndGlyphs">Ø8.2</text>
<text x="78.46" y="626.51" font-size="17.20" fill="#2d2d2d" stroke="#2d2d2d" stroke-width="0.2" textLength="42.72" lengthAdjust="spacingAndGlyphs">JC802</text>
<text x="202.15" y="760.80" font-size="14.10" fill="#2d2d2d" stroke="#2d2d2d" stroke-width="0.26" textLength="15.93" lengthAdjust="spacingAndGlyphs">18</text>
<text x="74.52" y="761.16" font-size="17.20" fill="#2d2d2d" stroke="#2d2d2d" stroke-width="0.2" textLength="48.20" lengthAdjust="spacingAndGlyphs">QT801</text>
<text x="810.78" y="270.25" font-size="14.10" fill="#2d2d2d" stroke="#2d2d2d" stroke-width="0.26" textLength="25.93" lengthAdjust="spacingAndGlyphs">15.5</text>
<text x="893.58" y="191.40" font-size="14.10" fill="#2d2d2d" stroke="#2d2d2d" stroke-width="0.26" textLength="15.88" lengthAdjust="spacingAndGlyphs">10</text>
<text x="822.70" y="395.40" font-size="14.10" fill="#2d2d2d" stroke="#2d2d2d" stroke-width="0.26" textLength="15.09" lengthAdjust="spacingAndGlyphs">20</text>
<text x="907.95" y="318.62" font-size="14.10" fill="#2d2d2d" stroke="#2d2d2d" stroke-width="0.26" textLength="14.09" lengthAdjust="spacingAndGlyphs">11</text>
<text x="822.10" y="498.16" font-size="14.10" fill="#2d2d2d" stroke="#2d2d2d" stroke-width="0.26" textLength="13.40" lengthAdjust="spacingAndGlyphs">20</text>
<text x="884.16" y="511.06" font-size="14.10" fill="#2d2d2d" stroke="#2d2d2d" stroke-width="0.26" textLength="26.20" lengthAdjust="spacingAndGlyphs" transform="rotate(-90 884.16 511.06)">10.2</text>
<text x="917.50" y="423.24" font-size="14.10" fill="#2d2d2d" stroke="#2d2d2d" stroke-width="0.26" textLength="15.25" lengthAdjust="spacingAndGlyphs">16</text>
<text x="966.11" y="468.43" font-size="14.10" fill="#2d2d2d" stroke="#2d2d2d" stroke-width="0.26" textLength="16.20" lengthAdjust="spacingAndGlyphs" transform="rotate(-90 966.11 468.43)">16</text>
<text x="827.57" y="605.04" font-size="14.10" fill="#2d2d2d" stroke="#2d2d2d" stroke-width="0.26" textLength="15.19" lengthAdjust="spacingAndGlyphs">29</text>
<text x="910.53" y="570.62" font-size="14.10" fill="#2d2d2d" stroke="#2d2d2d" stroke-width="0.26" textLength="7.35" lengthAdjust="spacingAndGlyphs" transform="rotate(-90 910.53 570.62)">8</text>
<text x="938.06" y="526.44" font-size="14.10" fill="#2d2d2d" stroke="#2d2d2d" stroke-width="0.26" textLength="15.62" lengthAdjust="spacingAndGlyphs">16</text>
<text x="985.28" y="574.75" font-size="14.10" fill="#2d2d2d" stroke="#2d2d2d" stroke-width="0.26" textLength="16.99" lengthAdjust="spacingAndGlyphs" transform="rotate(-90 985.28 574.75)">16</text>
<text x="818.20" y="754.16" font-size="14.10" fill="#2d2d2d" stroke="#2d2d2d" stroke-width="0.26" textLength="16.20" lengthAdjust="spacingAndGlyphs">18</text>
<text x="973.56" y="693.43" font-size="14.10" fill="#2d2d2d" stroke="#2d2d2d" stroke-width="0.26" textLength="17.20" lengthAdjust="spacingAndGlyphs" transform="rotate(-90 973.56 693.43)">16</text>
<text x="973.56" y="724.06" font-size="14.10" fill="#2d2d2d" stroke="#2d2d2d" stroke-width="0.26" textLength="15.20" lengthAdjust="spacingAndGlyphs" transform="rotate(-90 973.56 724.06)">15</text>
<rect x="252.5" y="258.8" width="106.5" height="39.8" fill="#0a4e94"/>
<rect x="362" y="258.8" width="138.5" height="39.8" fill="#0a4e94"/>
<rect x="503.3" y="258.8" width="133.6" height="39.8" fill="#0a4e94"/>
<rect x="639.8" y="258.8" width="152.2" height="39.8" fill="#0a4e94"/>
<rect x="252.5" y="300.5" width="106.5" height="23.5" fill="#edecea"/>
<rect x="362" y="300.5" width="138.5" height="23.5" fill="#edecea"/>
<rect x="639.8" y="300.5" width="152.2" height="23.5" fill="#edecea"/>
<text x="308.2" y="319.1" font-size="18" fill="#444444" text-anchor="middle" textLength="27" lengthAdjust="spacingAndGlyphs">110</text>
<text x="431.9" y="319.1" font-size="18" fill="#444444" text-anchor="middle" textLength="27" lengthAdjust="spacingAndGlyphs">261</text>
<text x="713.2" y="319.1" font-size="18" fill="#444444" text-anchor="middle" textLength="65.6" lengthAdjust="spacingAndGlyphs">YQ8007</text>
<rect x="252.5" y="326.8" width="106.5" height="23.5" fill="#cbcac5"/>
<rect x="362" y="326.8" width="138.5" height="23.5" fill="#cbcac5"/>
<rect x="639.8" y="326.8" width="152.2" height="23.5" fill="#cbcac5"/>
<text x="308.2" y="345.5" font-size="18" fill="#444444" text-anchor="middle" textLength="27" lengthAdjust="spacingAndGlyphs">120</text>
<text x="431.9" y="345.5" font-size="18" fill="#444444" text-anchor="middle" textLength="27" lengthAdjust="spacingAndGlyphs">281</text>
<text x="713.2" y="345.5" font-size="18" fill="#444444" text-anchor="middle" textLength="65.6" lengthAdjust="spacingAndGlyphs">YQ8008</text>
<rect x="252.5" y="353.2" width="106.5" height="23.5" fill="#edecea"/>
<rect x="362" y="353.2" width="138.5" height="23.5" fill="#edecea"/>
<rect x="639.8" y="353.2" width="152.2" height="23.5" fill="#edecea"/>
<text x="308.2" y="371.8" font-size="18" fill="#444444" text-anchor="middle" textLength="27" lengthAdjust="spacingAndGlyphs">130</text>
<text x="431.9" y="371.8" font-size="18" fill="#444444" text-anchor="middle" textLength="27" lengthAdjust="spacingAndGlyphs">301</text>
<text x="713.2" y="371.8" font-size="18" fill="#444444" text-anchor="middle" textLength="65.6" lengthAdjust="spacingAndGlyphs">YQ8009</text>
<rect x="252.5" y="379.5" width="106.5" height="23.5" fill="#cbcac5"/>
<rect x="362" y="379.5" width="138.5" height="23.5" fill="#cbcac5"/>
<rect x="639.8" y="379.5" width="152.2" height="23.5" fill="#cbcac5"/>
<text x="308.2" y="398.2" font-size="18" fill="#444444" text-anchor="middle" textLength="27" lengthAdjust="spacingAndGlyphs">140</text>
<text x="431.9" y="398.2" font-size="18" fill="#444444" text-anchor="middle" textLength="27" lengthAdjust="spacingAndGlyphs">321</text>
<text x="713.2" y="398.2" font-size="18" fill="#444444" text-anchor="middle" textLength="65.6" lengthAdjust="spacingAndGlyphs">YQ8010</text>
<rect x="252.5" y="405.9" width="106.5" height="23.5" fill="#edecea"/>
<rect x="362" y="405.9" width="138.5" height="23.5" fill="#edecea"/>
<rect x="639.8" y="405.9" width="152.2" height="23.5" fill="#edecea"/>
<text x="308.2" y="424.5" font-size="18" fill="#444444" text-anchor="middle" textLength="27" lengthAdjust="spacingAndGlyphs">150</text>
<text x="431.9" y="424.5" font-size="18" fill="#444444" text-anchor="middle" textLength="27" lengthAdjust="spacingAndGlyphs">341</text>
<text x="713.2" y="424.5" font-size="18" fill="#444444" text-anchor="middle" textLength="65.6" lengthAdjust="spacingAndGlyphs">YQ8011</text>
<rect x="252.5" y="432.2" width="106.5" height="23.5" fill="#cbcac5"/>
<rect x="362" y="432.2" width="138.5" height="23.5" fill="#cbcac5"/>
<rect x="639.8" y="432.2" width="152.2" height="23.5" fill="#cbcac5"/>
<text x="308.2" y="450.8" font-size="18" fill="#444444" text-anchor="middle" textLength="27" lengthAdjust="spacingAndGlyphs">160</text>
<text x="431.9" y="450.8" font-size="18" fill="#444444" text-anchor="middle" textLength="27" lengthAdjust="spacingAndGlyphs">361</text>
<text x="713.2" y="450.8" font-size="18" fill="#444444" text-anchor="middle" textLength="65.6" lengthAdjust="spacingAndGlyphs">YQ8012</text>
<rect x="252.5" y="458.5" width="106.5" height="23.5" fill="#edecea"/>
<rect x="362" y="458.5" width="138.5" height="23.5" fill="#edecea"/>
<rect x="639.8" y="458.5" width="152.2" height="23.5" fill="#edecea"/>
<text x="308.2" y="477.2" font-size="18" fill="#444444" text-anchor="middle" textLength="27" lengthAdjust="spacingAndGlyphs">170</text>
<text x="431.9" y="477.2" font-size="18" fill="#444444" text-anchor="middle" textLength="27" lengthAdjust="spacingAndGlyphs">381</text>
<text x="713.2" y="477.2" font-size="18" fill="#444444" text-anchor="middle" textLength="65.6" lengthAdjust="spacingAndGlyphs">YQ8013</text>
<rect x="252.5" y="484.9" width="106.5" height="23.5" fill="#cbcac5"/>
<rect x="362" y="484.9" width="138.5" height="23.5" fill="#cbcac5"/>
<rect x="639.8" y="484.9" width="152.2" height="23.5" fill="#cbcac5"/>
<text x="308.2" y="503.5" font-size="18" fill="#444444" text-anchor="middle" textLength="27" lengthAdjust="spacingAndGlyphs">180</text>
<text x="431.9" y="503.5" font-size="18" fill="#444444" text-anchor="middle" textLength="27" lengthAdjust="spacingAndGlyphs">401</text>
<text x="713.2" y="503.5" font-size="18" fill="#444444" text-anchor="middle" textLength="65.6" lengthAdjust="spacingAndGlyphs">YQ8014</text>
<rect x="252.5" y="511.2" width="106.5" height="23.5" fill="#edecea"/>
<rect x="362" y="511.2" width="138.5" height="23.5" fill="#edecea"/>
<rect x="639.8" y="511.2" width="152.2" height="23.5" fill="#edecea"/>
<text x="308.2" y="529.9" font-size="18" fill="#444444" text-anchor="middle" textLength="27" lengthAdjust="spacingAndGlyphs">190</text>
<text x="431.9" y="529.9" font-size="18" fill="#444444" text-anchor="middle" textLength="27" lengthAdjust="spacingAndGlyphs">421</text>
<text x="713.2" y="529.9" font-size="18" fill="#444444" text-anchor="middle" textLength="65.6" lengthAdjust="spacingAndGlyphs">YQ8015</text>
<rect x="252.5" y="537.6" width="106.5" height="23.5" fill="#cbcac5"/>
<rect x="362" y="537.6" width="138.5" height="23.5" fill="#cbcac5"/>
<rect x="639.8" y="537.6" width="152.2" height="23.5" fill="#cbcac5"/>
<text x="308.2" y="556.2" font-size="18" fill="#444444" text-anchor="middle" textLength="27" lengthAdjust="spacingAndGlyphs">200</text>
<text x="431.9" y="556.2" font-size="18" fill="#444444" text-anchor="middle" textLength="27" lengthAdjust="spacingAndGlyphs">441</text>
<text x="713.2" y="556.2" font-size="18" fill="#444444" text-anchor="middle" textLength="65.6" lengthAdjust="spacingAndGlyphs">YQ8016</text>
<rect x="252.5" y="563.9" width="106.5" height="23.5" fill="#edecea"/>
<rect x="362" y="563.9" width="138.5" height="23.5" fill="#edecea"/>
<rect x="639.8" y="563.9" width="152.2" height="23.5" fill="#edecea"/>
<text x="308.2" y="582.5" font-size="18" fill="#444444" text-anchor="middle" textLength="27" lengthAdjust="spacingAndGlyphs">210</text>
<text x="431.9" y="582.5" font-size="18" fill="#444444" text-anchor="middle" textLength="27" lengthAdjust="spacingAndGlyphs">461</text>
<text x="713.2" y="582.5" font-size="18" fill="#444444" text-anchor="middle" textLength="65.6" lengthAdjust="spacingAndGlyphs">YQ8017</text>
<rect x="252.5" y="590.2" width="106.5" height="23.5" fill="#cbcac5"/>
<rect x="362" y="590.2" width="138.5" height="23.5" fill="#cbcac5"/>
<rect x="639.8" y="590.2" width="152.2" height="23.5" fill="#cbcac5"/>
<text x="308.2" y="608.9" font-size="18" fill="#444444" text-anchor="middle" textLength="27" lengthAdjust="spacingAndGlyphs">220</text>
<text x="431.9" y="608.9" font-size="18" fill="#444444" text-anchor="middle" textLength="27" lengthAdjust="spacingAndGlyphs">481</text>
<text x="713.2" y="608.9" font-size="18" fill="#444444" text-anchor="middle" textLength="65.6" lengthAdjust="spacingAndGlyphs">YQ8018</text>
<rect x="252.5" y="616.6" width="106.5" height="23.5" fill="#edecea"/>
<rect x="362" y="616.6" width="138.5" height="23.5" fill="#edecea"/>
<rect x="639.8" y="616.6" width="152.2" height="23.5" fill="#edecea"/>
<text x="308.2" y="635.2" font-size="18" fill="#444444" text-anchor="middle" textLength="27" lengthAdjust="spacingAndGlyphs">230</text>
<text x="431.9" y="635.2" font-size="18" fill="#444444" text-anchor="middle" textLength="27" lengthAdjust="spacingAndGlyphs">501</text>
<text x="713.2" y="635.2" font-size="18" fill="#444444" text-anchor="middle" textLength="65.6" lengthAdjust="spacingAndGlyphs">YQ8019</text>
<rect x="252.5" y="642.9" width="106.5" height="23.5" fill="#cbcac5"/>
<rect x="362" y="642.9" width="138.5" height="23.5" fill="#cbcac5"/>
<rect x="639.8" y="642.9" width="152.2" height="23.5" fill="#cbcac5"/>
<text x="308.2" y="661.6" font-size="18" fill="#444444" text-anchor="middle" textLength="27" lengthAdjust="spacingAndGlyphs">240</text>
<text x="431.9" y="661.6" font-size="18" fill="#444444" text-anchor="middle" textLength="27" lengthAdjust="spacingAndGlyphs">521</text>
<text x="713.2" y="661.6" font-size="18" fill="#444444" text-anchor="middle" textLength="65.6" lengthAdjust="spacingAndGlyphs">YQ8020</text>
<rect x="252.5" y="669.3" width="106.5" height="23.5" fill="#edecea"/>
<rect x="362" y="669.3" width="138.5" height="23.5" fill="#edecea"/>
<rect x="639.8" y="669.3" width="152.2" height="23.5" fill="#edecea"/>
<text x="308.2" y="687.9" font-size="18" fill="#444444" text-anchor="middle" textLength="27" lengthAdjust="spacingAndGlyphs">250</text>
<text x="431.9" y="687.9" font-size="18" fill="#444444" text-anchor="middle" textLength="27" lengthAdjust="spacingAndGlyphs">541</text>
<text x="713.2" y="687.9" font-size="18" fill="#444444" text-anchor="middle" textLength="65.6" lengthAdjust="spacingAndGlyphs">YQ8021</text>
<rect x="252.5" y="695.6" width="106.5" height="23.5" fill="#cbcac5"/>
<rect x="362" y="695.6" width="138.5" height="23.5" fill="#cbcac5"/>
<rect x="639.8" y="695.6" width="152.2" height="23.5" fill="#cbcac5"/>
<text x="308.2" y="714.2" font-size="18" fill="#444444" text-anchor="middle" textLength="27" lengthAdjust="spacingAndGlyphs">260</text>
<text x="431.9" y="714.2" font-size="18" fill="#444444" text-anchor="middle" textLength="27" lengthAdjust="spacingAndGlyphs">561</text>
<text x="713.2" y="714.2" font-size="18" fill="#444444" text-anchor="middle" textLength="65.6" lengthAdjust="spacingAndGlyphs">YQ8022</text>
<rect x="252.5" y="721.9" width="106.5" height="23.5" fill="#edecea"/>
<rect x="362" y="721.9" width="138.5" height="23.5" fill="#edecea"/>
<rect x="639.8" y="721.9" width="152.2" height="23.5" fill="#edecea"/>
<text x="308.2" y="740.6" font-size="18" fill="#444444" text-anchor="middle" textLength="27" lengthAdjust="spacingAndGlyphs">270</text>
<text x="431.9" y="740.6" font-size="18" fill="#444444" text-anchor="middle" textLength="27" lengthAdjust="spacingAndGlyphs">581</text>
<text x="713.2" y="740.6" font-size="18" fill="#444444" text-anchor="middle" textLength="65.6" lengthAdjust="spacingAndGlyphs">YQ8023</text>
<rect x="252.5" y="748.3" width="106.5" height="23.5" fill="#cbcac5"/>
<rect x="362" y="748.3" width="138.5" height="23.5" fill="#cbcac5"/>
<rect x="639.8" y="748.3" width="152.2" height="23.5" fill="#cbcac5"/>
<text x="308.2" y="766.9" font-size="18" fill="#444444" text-anchor="middle" textLength="27" lengthAdjust="spacingAndGlyphs">280</text>
<text x="431.9" y="766.9" font-size="18" fill="#444444" text-anchor="middle" textLength="27" lengthAdjust="spacingAndGlyphs">601</text>
<text x="713.2" y="766.9" font-size="18" fill="#444444" text-anchor="middle" textLength="65.6" lengthAdjust="spacingAndGlyphs">YQ8024</text>
<rect x="252.5" y="774.6" width="106.5" height="23.5" fill="#edecea"/>
<rect x="362" y="774.6" width="138.5" height="23.5" fill="#edecea"/>
<rect x="639.8" y="774.6" width="152.2" height="23.5" fill="#edecea"/>
<text x="308.2" y="793.3" font-size="18" fill="#444444" text-anchor="middle" textLength="27" lengthAdjust="spacingAndGlyphs">290</text>
<text x="431.9" y="793.3" font-size="18" fill="#444444" text-anchor="middle" textLength="27" lengthAdjust="spacingAndGlyphs">621</text>
<text x="713.2" y="793.3" font-size="18" fill="#444444" text-anchor="middle" textLength="65.6" lengthAdjust="spacingAndGlyphs">YQ8025</text>
<rect x="503.3" y="300.5" width="133.6" height="260.6" fill="#cbcac5"/>
<rect x="503.3" y="563.9" width="133.6" height="236.1" fill="#edecea"/>
<text x="570" y="344" font-size="18" fill="#444444" text-anchor="middle" textLength="56" lengthAdjust="spacingAndGlyphs">50-700</text>
<text x="567.5" y="734" font-size="18" fill="#444444" text-anchor="middle" textLength="56" lengthAdjust="spacingAndGlyphs">50-600</text>
<text x="305.8" y="291" font-size="26" font-weight="bold" fill="#ffffff" text-anchor="middle" textLength="13" lengthAdjust="spacingAndGlyphs">B</text>
<text x="403.6" y="289.4" font-size="25" font-weight="bold" fill="#ffffff" textLength="17" lengthAdjust="spacingAndGlyphs">A</text>
<text x="423.5" y="289.4" font-size="20" font-weight="bold" fill="#ffffff" textLength="49" lengthAdjust="spacingAndGlyphs">(min)</text>
<text x="543.6" y="288.3" font-size="25" font-weight="bold" fill="#ffffff" textLength="10" lengthAdjust="spacingAndGlyphs">F</text>
<text x="554.5" y="288.3" font-size="12" font-weight="bold" fill="#ffffff">1</text>
<text x="561.5" y="289" font-size="25" font-weight="bold" fill="#ffffff" textLength="36" lengthAdjust="spacingAndGlyphs">(N)</text>
<text x="675.8" y="288.3" font-size="25" font-weight="bold" fill="#ffffff" textLength="93" lengthAdjust="spacingAndGlyphs">Ref. No.</text>
</svg>
</body></html>
